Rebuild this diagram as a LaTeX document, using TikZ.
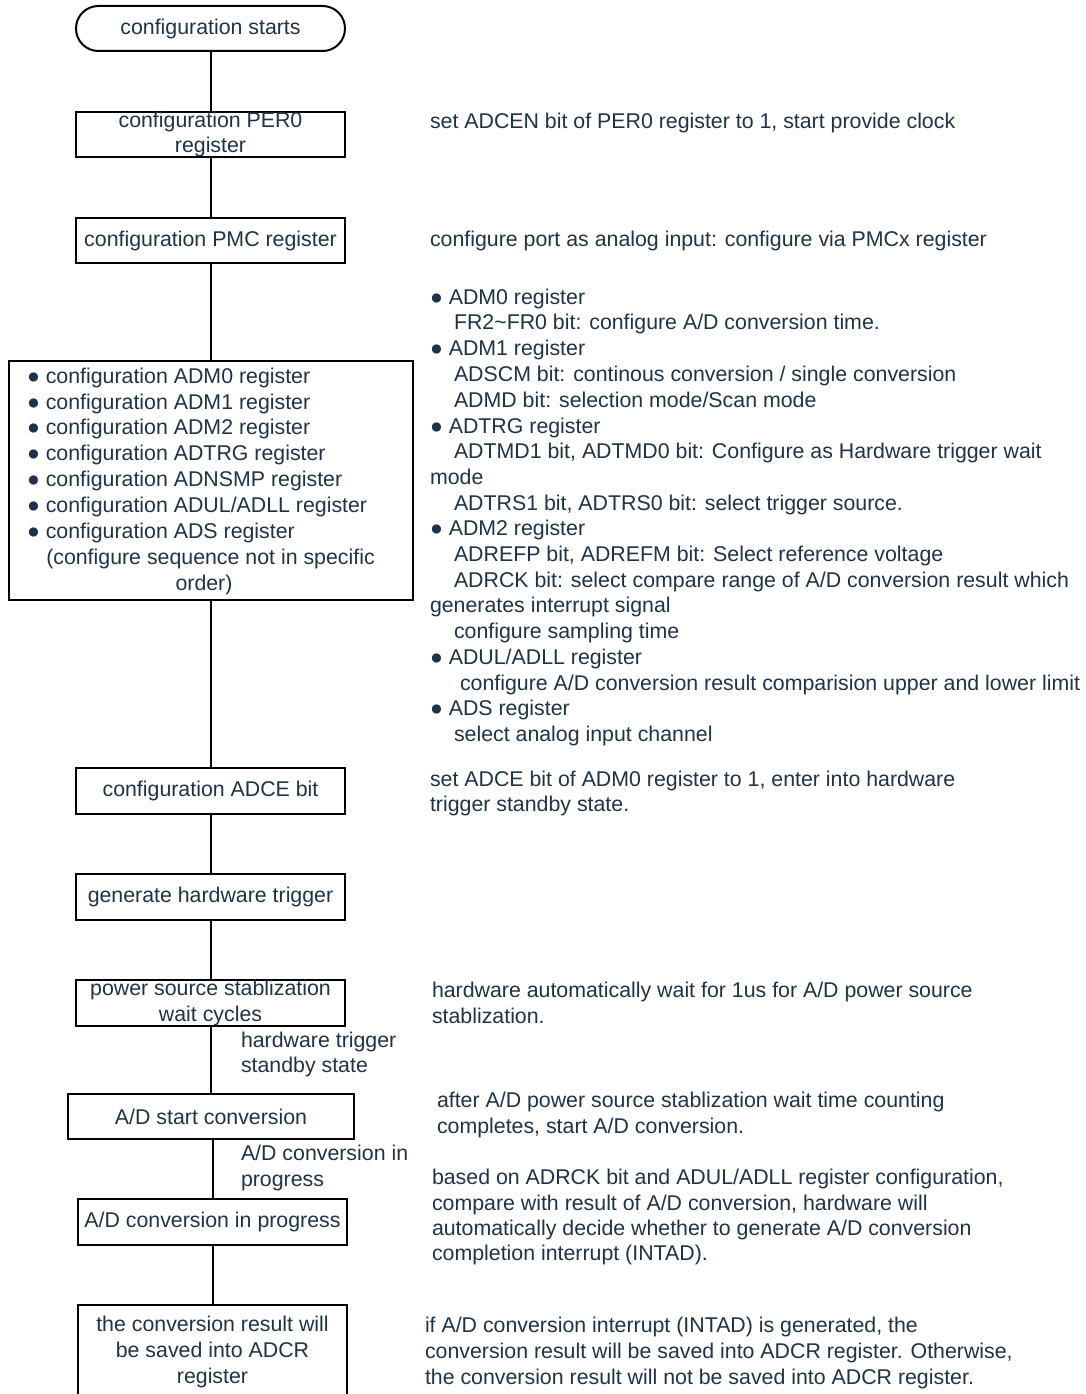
\documentclass[tikz,border=0pt]{standalone}
\usepackage{fontspec}
\setmainfont{Liberation Sans}
\definecolor{txt}{RGB}{30,50,72}
\begin{document}
\begin{tikzpicture}[x=0.75pt,y=-0.75pt,
  font=\fontsize{16}{19.3}\selectfont, text=txt,
  line width=1.5pt,
  pxsize/.style 2 args={minimum width=#1*0.75pt, minimum height=#2*0.75pt},
  box/.style={draw=black, rectangle, inner sep=0pt, align=center},
  term/.style={draw=black, rectangle, rounded corners=16.8pt, inner sep=0pt},
  tl/.style={anchor=mid west, inner sep=0pt, yshift=-3pt},
  tc/.style={anchor=mid, inner sep=0pt, yshift=-3pt},
  conn/.style={draw=black, line width=1.5pt}]
\useasboundingbox (0,0) rectangle (1085,1394);
\clip (0,0) rectangle (1085,1394);
% flow boxes
\node[term, pxsize={269}{45}] (start) at (210.5,28.5) {\raisebox{-0.75pt}{configuration starts}};
\node[box, pxsize={269}{45}] (per0) at (210.5,134.5) {configuration PER0\\register};
\node[box, pxsize={269}{45}] (pmc) at (210.5,240.5) {configuration PMC register};
\node[box, pxsize={404}{239}] (adm) at (211,480.5) {};
\node[box, pxsize={269}{46}] (adce) at (210.5,791) {configuration ADCE bit};
\node[box, pxsize={269}{46}] (trig) at (210.5,897) {generate hardware trigger};
\node[box, pxsize={269}{46}] (pwr) at (210.5,1003) {power source stablization\\wait cycles};
\node[box, pxsize={286}{45}] (adstart) at (211,1116.5) {A/D start conversion};
\node[box, pxsize={269}{46}] (adprog) at (212.5,1222) {A/D conversion in progress};
\node[box, pxsize={269}{94}] (res) at (212.5,1352) {the conversion result will\\be saved into ADCR\\register};
% text inside the big box
\node[tl] (b1) at (26,376) {● configuration ADM0 register};
\node[tl] (b2) at (26,402) {● configuration ADM1 register};
\node[tl] (b3) at (26,427) {● configuration ADM2 register};
\node[tl] (b4) at (26,453) {● configuration ADTRG register};
\node[tl] (b5) at (26,479) {● configuration ADNSMP register};
\node[tl] (b6) at (26,505) {● configuration ADUL/ADLL register};
\node[tl] (b7) at (26,531) {● configuration ADS register};
\node[tc] (b8) at (210.5,557) {(configure sequence not in specific};
\node[tc] (b9) at (204,583) {order)};
% connectors
\draw[conn] (start.south) -- (start.south |- per0.north);
\draw[conn] (per0.south) -- (per0.south |- pmc.north);
\draw[conn] (pmc.south) -- (pmc.south |- adm.north);
\draw[conn] (adce.north |- adm.south) -- (adce.north);
\draw[conn] (adce.south) -- (adce.south |- trig.north);
\draw[conn] (trig.south) -- (trig.south |- pwr.north);
\draw[conn] (pwr.south) -- (pwr.south |- adstart.north);
\draw[conn] (adprog.north |- adstart.south) -- (adprog.north);
\draw[conn] (adprog.south) -- (adprog.south |- res.north);
% connector labels
\node[tl] (l1a) at (240,1040) {hardware trigger};
\node[tl] (l1b) at (240,1065) {standby state};
\node[tl] (l2a) at (240,1153) {A/D conversion in};
\node[tl] (l2b) at (240,1179) {progress};
% right-hand notes
\node[tl] (n1) at (429,121) {set ADCEN bit of PER0 register to 1, start provide clock};
\node[tl] (n2) at (429,239) {configure port as analog input: configure via PMCx register};
\node[tl] (r1) at (429,297) {● ADM0 register};
\node[tl] (r2) at (453,322) {FR2\textasciitilde FR0 bit: configure A/D conversion time.};
\node[tl] (r3) at (429,348) {● ADM1 register};
\node[tl] (r4) at (453,374) {ADSCM bit: continous conversion / single conversion};
\node[tl] (r5) at (453,400) {ADMD bit: selection mode/Scan mode};
\node[tl] (r6) at (429,426) {● ADTRG register};
\node[tl] (r7) at (453,451) {ADTMD1 bit, ADTMD0 bit: Configure as Hardware trigger wait};
\node[tl] (r8) at (429,477) {mode};
\node[tl] (r9) at (453,503) {ADTRS1 bit, ADTRS0 bit: select trigger source.};
\node[tl] (r10) at (429,528) {● ADM2 register};
\node[tl] (r11) at (453,554) {ADREFP bit, ADREFM bit: Select reference voltage};
\node[tl] (r12) at (453,580) {ADRCK bit: select compare range of A/D conversion result which};
\node[tl] (r13) at (429,605) {generates interrupt signal};
\node[tl] (r14) at (453,631) {configure sampling time};
\node[tl] (r15) at (429,657) {● ADUL/ADLL register};
\node[tl] (r16) at (459,683) {configure A/D conversion result comparision upper and lower limit};
\node[tl] (r17) at (429,708) {● ADS register};
\node[tl] (r18) at (453,734) {select analog input channel};
\node[tl] (n3a) at (429,779) {set ADCE bit of ADM0 register to 1, enter into hardware};
\node[tl] (n3b) at (429,804) {trigger standby state.};
\node[tl] (n4a) at (431,990) {hardware automatically wait for 1us for A/D power source};
\node[tl] (n4b) at (431,1016) {stablization.};
\node[tl] (n5a) at (436,1100) {after A/D power source stablization wait time counting};
\node[tl] (n5b) at (436,1126) {completes, start A/D conversion.};
\node[tl] (n6a) at (431,1177) {based on ADRCK bit and ADUL/ADLL register configuration,};
\node[tl] (n6b) at (431,1203) {compare with result of A/D conversion, hardware will};
\node[tl] (n6c) at (431,1228) {automatically decide whether to generate A/D conversion};
\node[tl] (n6d) at (431,1253) {completion interrupt (INTAD).};
\node[tl] (n7a) at (424,1325) {if A/D conversion interrupt (INTAD) is generated, the};
\node[tl] (n7b) at (424,1351) {conversion result will be saved into ADCR register. Otherwise,};
\node[tl] (n7c) at (424,1377) {the conversion result will not be saved into ADCR register.};
\end{tikzpicture}
\end{document}
